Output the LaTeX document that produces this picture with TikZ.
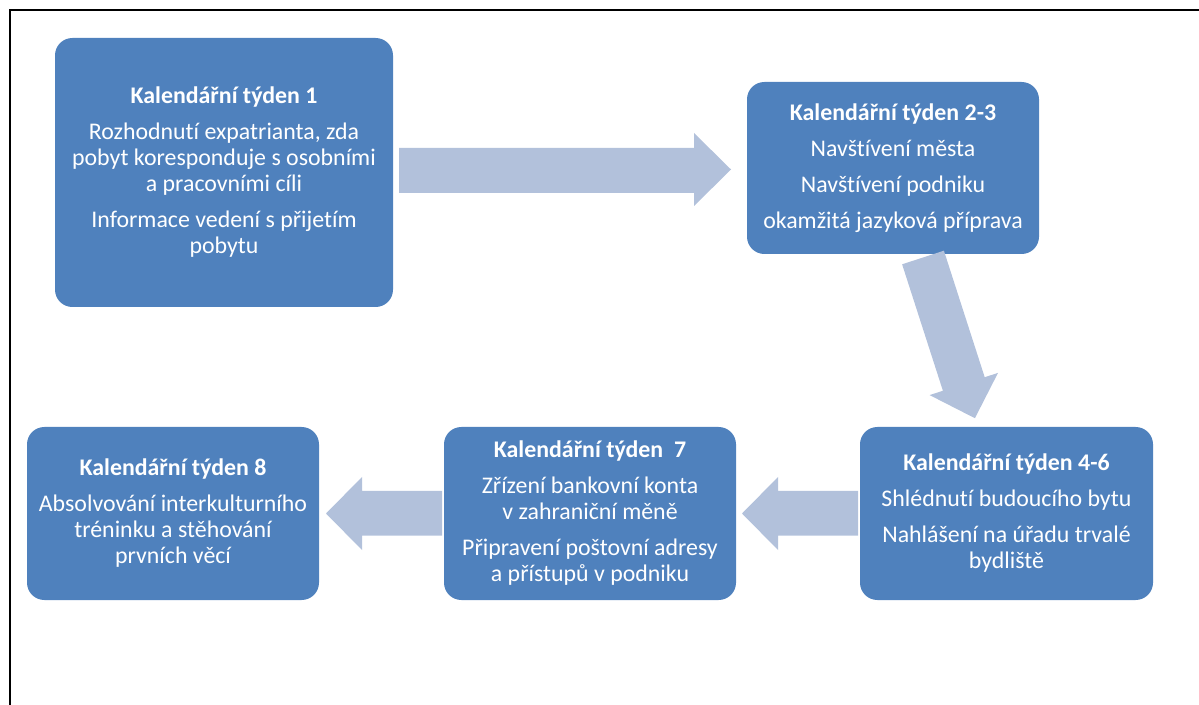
\documentclass[tikz,border=0pt]{standalone}
\usepackage{fontspec}
\setmainfont{Carlito}[Ligatures=NoCommon]
\definecolor{boxblue}{RGB}{79,129,189}
\definecolor{arrowblue}{RGB}{178,193,219}
\begin{document}
\begin{tikzpicture}[x=0.75pt,y=-0.75pt,
  stagebox/.style={fill=boxblue, draw=none, rounded corners=13pt, text=white,
    align=center, inner sep=0pt, font=\fontsize{17.9}{19.5}\selectfont},
  blockarrow/.style={fill=arrowblue, draw=none},
  frameline/.style={line width=1.5pt, black}]
\useasboundingbox (0,0) rectangle (1199,705);
\draw[frameline] (1199,10) -- (10,10) -- (10,705);

\node[stagebox, minimum width=253.5pt, minimum height=201.75pt] (b1) at (224,172.5)
  {\textbf{Kalendářní týden 1}\\[7.5pt]
   Rozhodnutí expatrianta, zda\\
   pobyt koresponduje s osobními\\
   a pracovními cíli\\[7.5pt]
   Informace vedení s přijetím\\
   pobytu};
\node[stagebox, minimum width=219pt, minimum height=129pt] (b2) at (893,168)
  {\textbf{Kalendářní týden 2-3}\\[7.5pt]
   Navštívení města\\[7.5pt]
   Navštívení podniku\\[7.5pt]
   okamžitá jazyková příprava};
\node[stagebox, minimum width=219.75pt, minimum height=129.75pt] (b3) at (1006.5,513.5)
  {\textbf{Kalendářní týden 4-6}\\[7.5pt]
   Shlédnutí budoucího bytu\\[7.5pt]
   Nahlášení na úřadu trvalé\\
   bydliště};
\node[stagebox, minimum width=219pt, minimum height=129.75pt] (b4) at (590,513.5)
  {\textbf{Kalendářní týden\ \ 7}\\[7.5pt]
   Zřízení bankovní konta\\
   v zahraniční měně\\[7.5pt]
   Připravení poštovní adresy\\
   a přístupů v podniku};
\node[stagebox, minimum width=219pt, minimum height=129.75pt] (b5) at (173,513.5)
  {\textbf{Kalendářní týden 8}\\[7.5pt]
   Absolvování interkulturního\\
   tréninku a stěhování\\
   prvních věcí};

% arrow b1 -> b2
\fill[blockarrow] (399,148) -- (694,148) -- (694,133) -- (731,169.5) -- (694,206)
  -- (694,193) -- (399,193) -- cycle;
% arrow b2 -> b3
\fill[blockarrow] (902.1,264.3) -- (943.9,250.7) -- (984.7,377.2) -- (998.0,372.9)
  -- (974.9,418.2) -- (929.6,395.1) -- (942.9,390.75) -- cycle;
% arrow b3 -> b4
\fill[blockarrow] (858,491) -- (778,491) -- (778,477) -- (742,513.5) -- (778,550)
  -- (778,535.5) -- (858,535.5) -- cycle;
% arrow b4 -> b5
\fill[blockarrow] (442,491) -- (362,491) -- (362,477) -- (326,513.5) -- (362,550)
  -- (362,535.5) -- (442,535.5) -- cycle;
\end{tikzpicture}
\end{document}
